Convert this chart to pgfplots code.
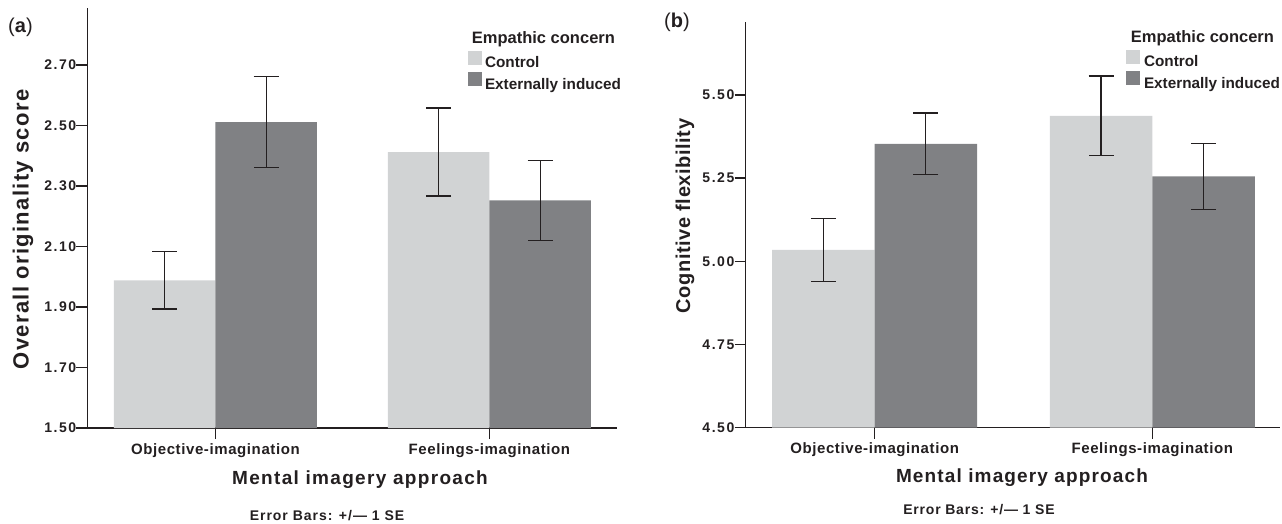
\documentclass[border=0pt]{standalone}
\usepackage{fontspec}
\setmainfont{Liberation Sans}
\newfontfamily\ftick{Liberation Sans}[LetterSpace=11]
\newfontfamily\fxtick{Liberation Sans}[LetterSpace=4]
\newfontfamily\fylab{Liberation Sans}[LetterSpace=6]
\newfontfamily\fylabb{Liberation Sans}[LetterSpace=3]
\newfontfamily\fxlab{Liberation Sans}[LetterSpace=7]
\newfontfamily\fxlabb{Liberation Sans}[LetterSpace=6]
\newfontfamily\fnote{Liberation Sans}[LetterSpace=7]
\newfontfamily\fnoteb{Liberation Sans}[LetterSpace=5.5]
\usepackage{pgfplots}
\usepackage{pgfplotstable}
\pgfplotsset{compat=1.18}
\definecolor{ctrl}{HTML}{D1D3D4}
\definecolor{ext}{HTML}{808184}
\definecolor{ink}{HTML}{231F20}

\pgfplotstableread{
x y e
0 1.988 0.095
1 2.412 0.1455
}\aCtrl
\pgfplotstableread{
x y e
0 2.511 0.151
1 2.252 0.1325
}\aExt
\pgfplotstableread{
x y e
0 5.034 0.094
1 5.437 0.120
}\bCtrl
\pgfplotstableread{
x y e
0 5.353 0.0925
1 5.255 0.099
}\bExt

\pgfplotsset{
  myax/.style={
    scale only axis,
    axis x line=bottom, axis y line=left,
    axis line style={-, line width=1.3pt, draw=ink},
    tick align=outside, major tick length=11pt,
    tick style={line width=1.3pt, draw=ink},
    xtick={0,1},
    xticklabels={Objective-imagination,Feelings-imagination},
    xticklabel style={font=\fxtick\fontsize{15}{17}\selectfont\bfseries, text=ink, inner sep=0pt, text height=11pt, text depth=3pt, yshift=-4pt},
    yticklabel style={font=\ftick\fontsize{14}{16}\selectfont\bfseries, text=ink, inner sep=0pt, xshift=0pt},
    ybar=0pt,
    legend cell align=left,
    legend image code/.code={\fill[##1] (0pt,-1pt) rectangle (14pt,13pt);},
    legend style={anchor=north west, draw=none, fill=none, inner sep=0pt, outer sep=0pt, row sep=0pt,
      nodes={inner sep=0pt, text height=12pt, text depth=4.5pt, font=\fontsize{15.3}{17}\selectfont\bfseries, text=ink}},
  },
  errst/.style={error bars/.cd, y dir=both, y explicit,
    error mark=-,
    error bar style={draw=ink, line width=1.2pt},
    error mark options={draw=ink, line width=1.3pt, mark size=12.5pt, rotate=90}},
}

\begin{document}
\begin{tikzpicture}
\useasboundingbox (0pt,0pt) rectangle (1282pt,523pt);

% Panel (a)
\begin{axis}[myax,
  at={(87.4pt,95pt)}, anchor=south west,
  width=530pt, height=419.7pt,
  xmin=-0.467, xmax=1.467, ymin=1.5, ymax=2.887,
  bar width=101.5pt,
  ytick={1.5,1.7,1.9,2.1,2.3,2.5,2.7},
  yticklabels={1.50,1.70,1.90,2.10,2.30,2.50,2.70},
  legend style={at={(0.7176,0.8978)}, column sep=3.3pt},
]
\addplot[fill=ctrl, draw=none, errst] table[x=x, y=y, y error=e]{\aCtrl};
\addlegendentry{Control}
\addplot[fill=ext, draw=none, errst] table[x=x, y=y, y error=e]{\aExt};
\addlegendentry{Externally induced}
\end{axis}

% Panel (b)
\begin{axis}[myax,
  at={(745.5pt,95.3pt)}, anchor=south west,
  width=534.5pt, height=406pt,
  xmin=-0.465, xmax=1.46, ymin=4.5, ymax=5.72,
  bar width=102.5pt,
  ytick={4.5,4.75,5,5.25,5.5},
  yticklabels={4.50,4.75,5.00,5.25,5.50},
  legend style={at={(0.7119,0.9302)}, column sep=4pt},
]
\addplot[fill=ctrl, draw=none, errst] table[x=x, y=y, y error=e]{\bCtrl};
\addlegendentry{Control}
\addplot[fill=ext, draw=none, errst] table[x=x, y=y, y error=e]{\bExt};
\addlegendentry{Externally induced}
\end{axis}

% Texts
\node[text=ink, font=\fontsize{20}{22}\selectfont] at (20.5pt,495.5pt) {(\textbf{a})};
\node[text=ink, font=\fontsize{20}{22}\selectfont] at (677pt,501pt) {(\textbf{b})};

\node[text=ink, rotate=90, font=\fylab\fontsize{22}{24}\selectfont\bfseries] at (23pt,293.5pt) {Overall originality score};
\node[text=ink, rotate=90, font=\fylabb\fontsize{20}{22}\selectfont\bfseries] at (685pt,307pt) {Cognitive flexibility};

\node[text=ink, anchor=base, inner sep=0pt, font=\fxlab\fontsize{19}{21}\selectfont\bfseries] at (360pt,39pt) {Mental imagery approach};
\node[text=ink, anchor=base, inner sep=0pt, font=\fxlabb\fontsize{19}{21}\selectfont\bfseries] at (1022pt,40.3pt) {Mental imagery approach};

\node[text=ink, anchor=base, inner sep=0pt, font=\fnote\fontsize{14}{16}\selectfont\bfseries] at (327pt,2.5pt) {Error Bars: +/— 1 SE};
\node[text=ink, anchor=base, inner sep=0pt, font=\fnoteb\fontsize{14}{16}\selectfont\bfseries] at (979pt,9pt) {Error Bars: +/— 1 SE};

\node[text=ink, anchor=base west, inner sep=0pt, font=\fontsize{16.5}{18}\selectfont\bfseries] at (471.7pt,479.7pt) {Empathic concern};
\node[text=ink, anchor=base west, inner sep=0pt, font=\fontsize{16.5}{18}\selectfont\bfseries] at (1130.7pt,480.7pt) {Empathic concern};
\end{tikzpicture}
\end{document}
